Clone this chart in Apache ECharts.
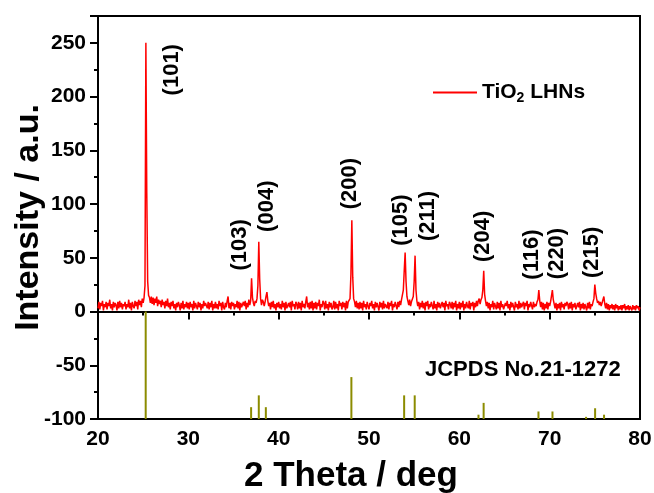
<!DOCTYPE html>
<html>
<head>
<meta charset="utf-8">
<script src="https://cdn.jsdelivr.net/npm/echarts@6/dist/echarts.min.js"></script>
<style>
  html, body { margin: 0; padding: 0; background: #fff; }
  #chart { width: 654px; height: 493px; }
</style>
</head>
<body>
<div id="chart"></div>
<script>
// measured pattern, 20 -> 80 deg, step 0.1 (one row per degree)
var thetaStart = 20;
var thetaStep = 0.1;
var intensity = [
  3,9,2,8,5,10,1,7,4,9,
  2,8,5,11,3,7,1,9,4,8,
  6,1,9,3,10,4,8,2,7,5,
  9,2,7,4,11,3,8,1,9,5,
  3,10,5,9,2,11,6,10,4,12,
  8,13,24,250,110,28,15,13,8,14,
  7,13,6,12,8,14,5,11,7,10,
  4,11,6,9,3,10,5,12,4,8,
  2,9,5,10,3,7,1,8,4,9,
  6,1,8,3,10,2,7,4,9,3,
  8,2,9,4,7,1,10,3,8,5,
  2,9,4,8,1,7,3,10,5,8,
  7,3,9,2,8,4,10,1,7,3,
  9,3,7,2,10,5,8,1,9,4,
  2,8,4,10,14,3,8,2,9,5,
  8,2,7,4,10,3,9,1,8,4,
  3,9,5,10,2,8,4,11,6,10,
  31,13,8,5,10,8,12,24,65,30,
  12,6,11,9,5,9,14,18,10,5,
  8,2,9,4,10,3,7,1,8,4,
  9,3,7,2,10,4,8,1,9,3,
  2,8,4,9,1,10,5,7,2,9,
  7,2,9,3,8,1,10,4,7,3,
  9,14,4,8,2,9,3,10,1,8,
  3,9,2,8,5,11,1,7,4,10,
  8,2,10,3,7,1,9,4,8,2,
  4,10,2,9,3,7,1,10,5,8,
  2,9,4,8,1,10,3,9,8,12,
  35,85,32,12,9,4,10,3,8,2,
  9,3,8,1,10,4,7,2,9,5,
  2,8,5,10,3,7,1,9,4,8,
  7,1,9,4,8,2,10,3,7,5,
  3,9,2,8,5,10,1,7,4,9,
  8,2,9,4,10,6,11,10,20,38,
  55,28,14,10,6,11,5,9,10,14,
  28,52,20,10,5,9,2,8,4,10,
  3,8,1,9,5,10,2,7,4,9,
  8,2,10,3,7,1,9,4,8,3,
  2,9,4,8,1,10,5,7,2,9,
  7,3,9,2,8,4,10,1,7,3,
  9,2,8,4,10,1,7,3,9,5,
  3,10,2,8,5,9,1,8,4,10,
  5,10,12,7,11,13,20,38,16,10,
  5,9,3,8,1,7,4,10,2,8,
  7,2,9,3,8,1,10,4,7,2,
  2,8,5,10,3,7,1,9,4,8,
  8,1,9,4,7,2,10,3,8,4,
  3,9,2,8,5,10,1,7,4,9,
  8,2,9,4,7,5,9,11,20,10,
  4,9,2,8,1,7,3,9,2,8,
  5,9,10,20,11,7,3,8,1,7,
  3,8,1,9,4,7,2,8,5,9,
  7,2,8,3,9,1,7,4,8,2,
  2,8,4,9,1,7,3,8,2,7,
  7,1,8,3,9,2,7,5,9,12,
  25,17,12,8,10,6,9,5,8,9,
  14,7,3,8,2,7,1,6,3,7,
  2,6,1,7,3,6,1,5,2,6,
  1,6,3,7,1,5,2,6,1,5,
  4,1,6,2,5,1,6,3,5,1,
  4
];

// JCPDS No.21-1272 reference lines (relative intensity, drawn up from -100)
var refTheta = [25.28, 36.95, 37.80, 38.58, 48.05, 53.89, 55.06, 62.12, 62.69, 68.76, 70.31, 74.03, 75.03, 76.02];
var refHeight = [100, 11, 22, 11, 39, 22, 22, 4, 15, 7, 7, 2, 10, 4];
var refBase = -100;

// hkl labels and where their centre sits
var hklNames = ['(101)', '(103)', '(004)', '(200)', '(105)', '(211)', '(204)', '(116)', '(220)', '(215)'];
var hklTheta = [28.2, 35.7, 38.7, 47.9, 53.5, 56.5, 62.6, 68.0, 70.8, 74.7];
var hklY = [225, 62, 98, 119, 85, 89, 70, 53, 54, 55];

var xTicks = [20, 80, 10];
var yTicks = [-100, 275, 50];

var pattern = intensity.map(function (v, i) {
  return [+(thetaStart + i * thetaStep).toFixed(1), v];
});
var refLines = refTheta.map(function (t, i) { return [t, refHeight[i]]; });
var hklData = hklNames.map(function (n, i) {
  return { name: n, value: [hklTheta[i], hklY[i]] };
});

var font = 'Liberation Sans, Arial, sans-serif';
var chart = echarts.init(document.getElementById('chart'));

var option = {
  animation: false,
  backgroundColor: '#fff',
  grid: {
    left: 98, right: 14, top: 16, bottom: 74,
    outerBoundsMode: 'none',
    containLabel: false,
    show: true, borderColor: '#000', borderWidth: 2
  },
  legend: {
    data: ['TiO2 LHNs'],
    left: 428, top: 77,
    icon: 'rect',
    itemWidth: 44, itemHeight: 2, itemGap: 6,
    formatter: function () { return 'TiO{sub|2} LHNs'; },
    textStyle: {
      fontFamily: font, fontWeight: 'bold', fontSize: 21, color: '#000',
      rich: {
        sub: { fontFamily: font, fontWeight: 'bold', fontSize: 14, color: '#000', padding: [12, 0, 0, 0] }
      }
    }
  },
  xAxis: {
    type: 'value',
    min: xTicks[0], max: xTicks[1], interval: xTicks[2],
    name: '2 Theta / deg',
    nameLocation: 'middle',
    nameGap: 40,
    nameMoveOverlap: false,
    nameTextStyle: { fontFamily: font, fontWeight: 'bold', fontSize: 35, color: '#000', padding: [0, 36, 0, 0] },
    axisLine: { lineStyle: { color: '#000', width: 2 } },
    axisTick: { length: 8, lineStyle: { color: '#000', width: 2 } },
    minorTick: { show: true, splitNumber: 2, length: 4, lineStyle: { color: '#000', width: 2 } },
    axisLabel: { fontFamily: font, fontWeight: 'bold', fontSize: 21, color: '#000', margin: 10 },
    splitLine: { show: false }
  },
  yAxis: {
    type: 'value',
    min: yTicks[0], max: yTicks[1], interval: yTicks[2],
    name: 'Intensity / a.u.',
    nameLocation: 'middle',
    nameGap: 52,
    nameMoveOverlap: false,
    nameTextStyle: { fontFamily: font, fontWeight: 'bold', fontSize: 34, color: '#000', padding: [0, 0, 0, 0] },
    axisLine: { lineStyle: { color: '#000', width: 2 } },
    axisTick: { length: 8, lineStyle: { color: '#000', width: 2 } },
    minorTick: { show: true, splitNumber: 2, length: 4, lineStyle: { color: '#000', width: 2 } },
    axisLabel: { fontFamily: font, fontWeight: 'bold', fontSize: 21, color: '#000', margin: 12, showMaxLabel: false },
    splitLine: { show: false }
  },
  graphic: [{
    type: 'text',
    left: 425, top: 359,
    style: { text: 'JCPDS No.21-1272', font: 'bold 22px ' + font, fill: '#000' }
  }],
  series: [
    {
      name: 'TiO2 LHNs',
      type: 'line',
      data: pattern,
      showSymbol: false,
      symbol: 'none',
      lineStyle: { color: '#ff0000', width: 1.5 },
      itemStyle: { color: '#ff0000' },
      z: 3
    },
    {
      name: 'JCPDS',
      type: 'custom',
      data: refLines,
      renderItem: function (params, api) {
        var p0 = api.coord([api.value(0), refBase]);
        var p1 = api.coord([api.value(0), refBase + api.value(1)]);
        return {
          type: 'line',
          shape: { x1: p0[0], y1: p0[1], x2: p1[0], y2: p1[1] },
          style: { stroke: '#8c8c00', lineWidth: 2 }
        };
      },
      z: 2
    },
    {
      name: 'hkl',
      type: 'scatter',
      data: hklData,
      symbolSize: 0,
      itemStyle: { opacity: 1 },
      label: {
        show: true,
        position: 'inside',
        rotate: 90,
        formatter: '{b}',
        fontFamily: font, fontWeight: 'bold', fontSize: 22, color: '#000',
        textBorderWidth: 0
      },
      silent: true,
      z: 4
    }
  ]
};

chart.setOption(option);
</script>
</body>
</html>
